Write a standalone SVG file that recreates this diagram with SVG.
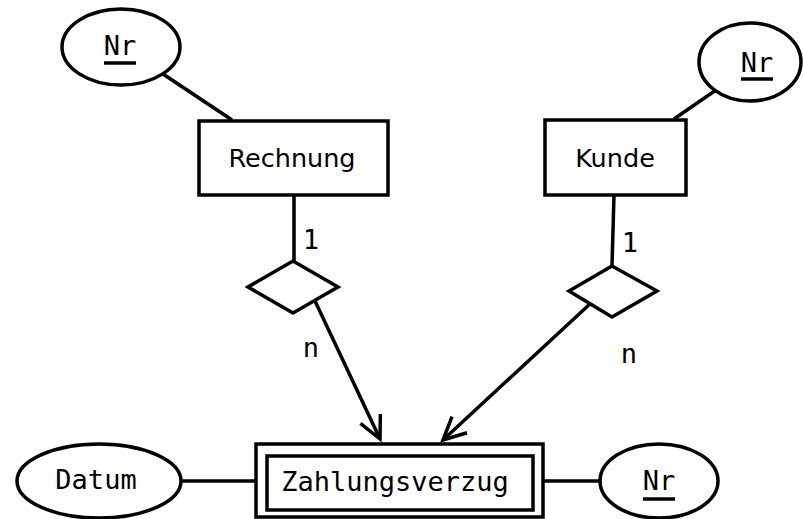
<svg xmlns="http://www.w3.org/2000/svg" width="803" height="519" viewBox="0 0 803 519">
<style>
  .shape { fill: #ffffff; stroke: #000000; stroke-width: 3.5; }
  .conn { fill: none; stroke: #000000; stroke-width: 3.5; }
  .mono { font-family: "DejaVu Sans Mono", "Liberation Mono", monospace; font-size: 27px; fill: #000000; text-anchor: middle; }
  .sans { font-family: "DejaVu Sans", "Liberation Sans", sans-serif; font-size: 25.5px; fill: #000000; text-anchor: middle; }
  .ul { stroke: #000000; stroke-width: 3.5; }
</style>
<defs>
  <marker id="open" viewBox="-26 -14 30 28" markerWidth="30" markerHeight="28" refX="0" refY="0" orient="auto" markerUnits="userSpaceOnUse">
    <path d="M-22.5,-11 L0,0 L-22.5,11" fill="none" stroke="#000000" stroke-width="3.5"/>
  </marker>
</defs>
<rect width="803" height="519" fill="#ffffff"/>
<g id="connectors">
  <line class="conn" x1="163" y1="74" x2="232" y2="120"/>
  <line class="conn" x1="674" y1="119" x2="716" y2="90"/>
  <line class="conn" x1="294" y1="195" x2="294" y2="261"/>
  <line class="conn" x1="614" y1="195" x2="612" y2="266"/>
  <line class="conn" x1="315" y1="301" x2="380" y2="439" marker-end="url(#open)"/>
  <line class="conn" x1="591" y1="303" x2="443" y2="440" marker-end="url(#open)"/>
  <line class="conn" x1="181" y1="481" x2="256" y2="481"/>
  <line class="conn" x1="543" y1="481" x2="600" y2="481"/>
  <text class="mono" x="311" y="249">1</text>
  <text class="mono" x="630" y="252">1</text>
  <text class="mono" x="311" y="357">n</text>
  <text class="mono" x="629" y="363">n</text>
</g>
<g id="attr-rechnung-nr">
  <ellipse class="shape" cx="121" cy="47" rx="59" ry="38"/>
  <text class="mono" x="120" y="55">Nr</text>
  <line class="ul" x1="104" y1="63" x2="136" y2="63"/>
</g>
<g id="rechnung">
  <rect class="shape" x="199" y="121" width="189" height="74"/>
  <text class="sans" x="292" y="167">Rechnung</text>
</g>
<g id="attr-kunde-nr">
  <ellipse class="shape" cx="750" cy="62" rx="51" ry="39"/>
  <text class="mono" x="757" y="72">Nr</text>
  <line class="ul" x1="741" y1="79" x2="773" y2="79"/>
</g>
<g id="kunde">
  <rect class="shape" x="545" y="120" width="141" height="75"/>
  <text class="sans" x="615" y="167">Kunde</text>
</g>
<g id="rel-rechnung">
  <polygon class="shape" points="293,261 338,287 293,313 248,287"/>
</g>
<g id="rel-kunde">
  <polygon class="shape" points="612,266 657,291 612,317 569,291"/>
</g>
<g id="zahlungsverzug">
  <rect class="shape" x="256" y="444" width="287" height="73"/>
  <rect class="shape" x="267" y="456" width="266" height="54" stroke-width="4.5"/>
  <text class="mono" x="395" y="491" font-size="28">Zahlungsverzug</text>
</g>
<g id="attr-datum">
  <ellipse class="shape" cx="99" cy="481" rx="82" ry="37"/>
  <text class="mono" x="96" y="489">Datum</text>
</g>
<g id="attr-zv-nr">
  <ellipse class="shape" cx="659" cy="481" rx="59" ry="37"/>
  <text class="mono" x="659" y="490">Nr</text>
  <line class="ul" x1="643" y1="499" x2="675" y2="499"/>
</g>
</svg>
